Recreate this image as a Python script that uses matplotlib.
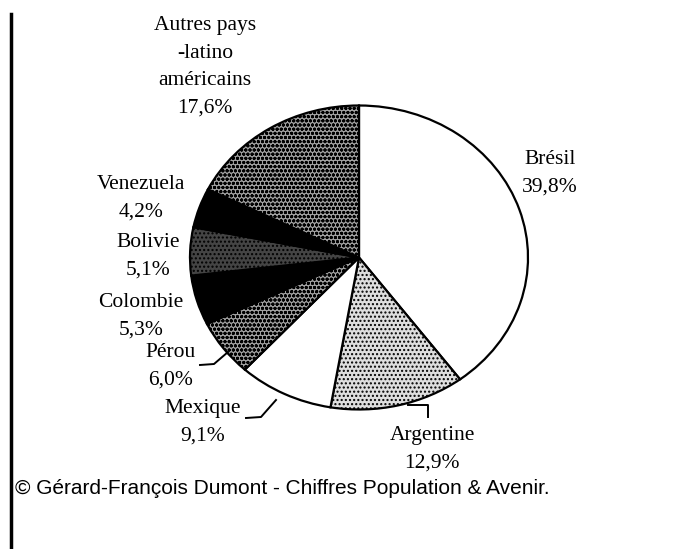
import matplotlib.pyplot as plt
from matplotlib.lines import Line2D

countries = ['Brésil', 'Argentine', 'Mexique', 'Pérou', 'Colombie',
             'Bolivie', 'Venezuela', 'Autres pays\n-latino\naméricains']
shares = [39.8, 12.9, 9.1, 6.0, 5.3, 5.1, 4.2, 17.6]

faces = ['white', '#dedede', 'white', '#a0a0a0', 'black', '#444444', 'black', '#a0a0a0']
hatches = ['', '....', '', 'oooo', '', '....', '', 'oooo']

# label block centres, in pixels of the 677x549 picture
label_px = [(550, 173), (432, 449), (203, 422), (171, 366),
            (141, 316), (148, 256), (141, 198), (205, 67)]

W, H = 677, 549
cx, cy, rx, ry = 359, 257.5, 169, 152

fig = plt.figure(figsize=(W / 100, H / 100), dpi=100)
ax = fig.add_axes([(cx - rx) / W, (H - cy - ry) / H, 2 * rx / W, 2 * ry / H])

wedges, _ = ax.pie(shares, startangle=90, counterclock=False, colors=faces,
                   wedgeprops=dict(edgecolor='black', linewidth=1.6))
for w, h in zip(wedges, hatches):
    w.set_hatch(h)
ax.set_aspect('auto')
ax.set_xlim(-1, 1)
ax.set_ylim(-1, 1)


def to_data(px, py):
    return (px - cx) / rx, (cy - py) / ry


for name, val, (px, py) in zip(countries, shares, label_px):
    x, y = to_data(px, py)
    txt = name + '\n' + ('%.1f%%' % val).replace('.', ',')
    ax.text(x, y, txt, ha='center', va='center', family='Liberation Serif',
            fontsize=15.5, linespacing=1.62, clip_on=False)

# leader lines (Pérou, Mexique, Argentine)
leaders = [[(200, 365), (214, 364), (228, 352)],
           [(246, 418), (261, 417), (276, 400)],
           [(408, 405), (428, 405), (428, 417)]]
for pts in leaders:
    xs, ys = zip(*[to_data(p, q) for p, q in pts])
    ax.plot(xs, ys, color='black', lw=1.4, clip_on=False)

fig.add_artist(Line2D([10.5 / W, 10.5 / W], [0, 1 - 14 / H], color='black', lw=2.5))
fig.text(15 / W, 1 - 488 / H, '© Gérard-François Dumont - Chiffres Population & Avenir.',
         family='Liberation Sans', fontsize=15, va='center', ha='left')

plt.savefig('out.png', dpi=100)
